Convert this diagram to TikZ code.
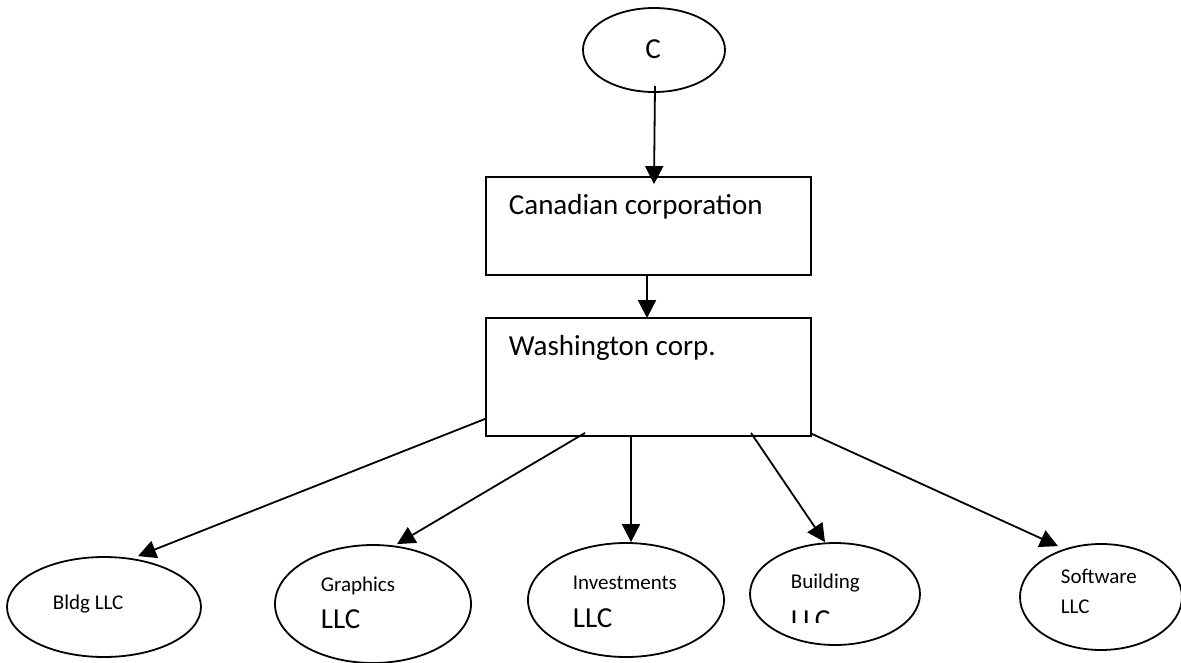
\documentclass[tikz,border=0pt]{standalone}
\usepackage{fontspec}
\setmainfont{Carlito}
\usetikzlibrary{shapes.geometric,arrows.meta}
\begin{document}
\begin{tikzpicture}[x=1pt,y=-1pt,line width=1.8pt,
  oval/.style={draw, ellipse, inner sep=0pt},
  box/.style={draw, rectangle, inner sep=0pt},
  arr/.style={-{Triangle[length=18pt,width=18pt]}},
  big/.style={font=\fontsize{29}{34}\selectfont, inner sep=0pt, anchor=base west},
  small/.style={font=\fontsize{21}{25}\selectfont, inner sep=0pt, anchor=base west}]
\useasboundingbox (0,0) rectangle (1181,662);
% top
\node[oval, minimum width=142pt, minimum height=84pt] (cee) at (654,50) {};
\node[big, anchor=base] (ceet) at (653,58) {C};
\node[box, minimum width=325pt, minimum height=98pt] (can) at (648.5,226) {};
\node[big] (cant) at (508,214) {Canadian corporation};
\node[box, minimum width=325pt, minimum height=118pt] (wash) at (648.5,377) {};
\node[big] (washt) at (508,355) {Washington corp.};
% bottom ellipses
\node[oval, minimum width=194pt, minimum height=100pt] (bldg) at (104,607) {};
\node[small] (bldgt) at (52,609) {Bldg LLC};
\node[oval, minimum width=196pt, minimum height=118pt] (gra) at (373,604) {};
\node[small] (grat) at (320,591) {Graphics};
\node[big] (gral) at (320,628) {LLC};
\node[oval, minimum width=196pt, minimum height=114pt] (inv) at (626,600) {};
\node[small] (invt) at (572,589) {Investments};
\node[big] (invl) at (572,627) {LLC};
\node[oval, minimum width=170pt, minimum height=102pt] (bui) at (835,594) {};
\node[small] (buit) at (790,588) {Building};
\begin{scope}
  \clip (780,600) rectangle (850,622);
  \node[big] (buil) at (790,629) {LLC};
\end{scope}
\node[oval, minimum width=162pt, minimum height=106pt] (sof) at (1101,597) {};
\node[small] (soft) at (1060,583) {Software};
\node[small] (sofl) at (1060,613) {LLC};
% connectors
\draw[arr] ([xshift=1pt,yshift=7pt]cee.south) -- ([xshift=5.5pt,yshift=-8pt]can.north);
\draw[arr] ([xshift=-1.5pt]can.south) -- ([xshift=-1.5pt,yshift=-1pt]wash.north);
\draw[arr] ([yshift=18pt]wash.south west) -- ([xshift=34pt]bldg.north);
\draw[arr] ([xshift=-63.5pt,yshift=4pt]wash.south) -- ([xshift=24pt]gra.north);
\draw[arr] ([xshift=-17.5pt]wash.south) -- ([xshift=5pt]inv.north);
\draw[arr] ([xshift=102.5pt,yshift=4pt]wash.south) -- ([xshift=-10pt]bui.north);
\draw[arr] ([yshift=3pt]wash.south east) -- ([xshift=-43pt,yshift=-3pt]sof.north);
\end{tikzpicture}
\end{document}
